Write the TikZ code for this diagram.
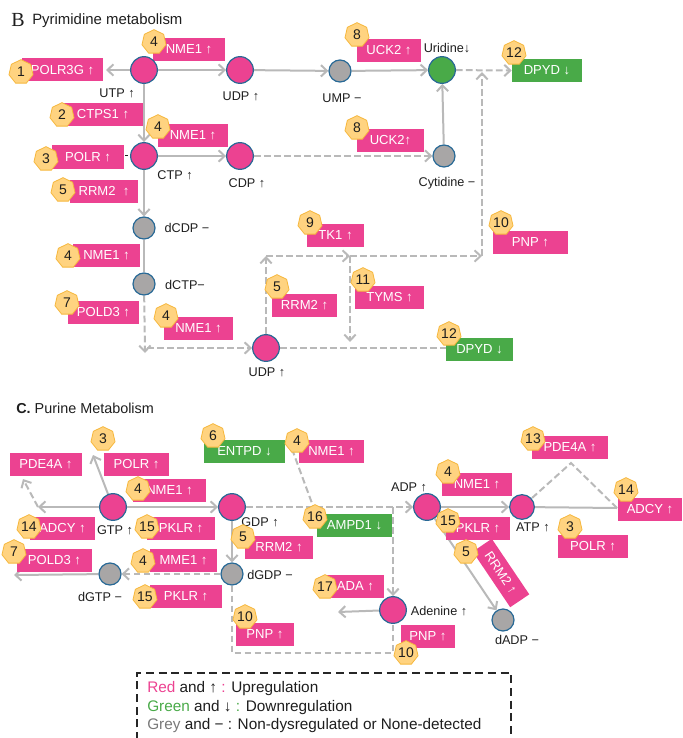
\documentclass[tikz,border=0pt]{standalone}
\usepackage{fontspec}
\setmainfont{Liberation Sans}
\newfontfamily\serifB{Liberation Serif}
\usetikzlibrary{shapes.geometric,arrows.meta,backgrounds}
\definecolor{pinkc}{RGB}{236,66,145}
\definecolor{greenc}{RGB}{73,170,72}
\definecolor{greyc}{RGB}{168,166,166}
\definecolor{bordc}{RGB}{40,105,150}
\definecolor{badgef}{RGB}{255,211,128}
\definecolor{badged}{RGB}{246,183,60}
\definecolor{linec}{RGB}{185,185,185}
\definecolor{txtc}{RGB}{30,30,30}
\definecolor{legg}{RGB}{120,120,120}
\begin{document}
\begin{tikzpicture}[x=0.75pt,y=-0.75pt,
  met/.style={circle,draw=bordc,line width=0.9pt,inner sep=0,minimum size=20pt},
  up/.style={met,fill=pinkc},
  dn/.style={met,fill=greenc},
  ns/.style={met,fill=greyc,minimum size=16.5pt},
  lbl/.style={font=\fontsize{9.5}{11}\selectfont,text=txtc,inner sep=0},
  gbox/.style={fill=pinkc,text=white,font=\fontsize{9.8}{11}\selectfont,minimum height=17.25pt,inner sep=0},
  gboxg/.style={gbox,fill=greenc},
  bw/.style={minimum width=#1*0.75pt},
  bdg/.style={regular polygon,regular polygon sides=7,fill=badgef,draw=badged,line width=0.6pt,inner sep=0,minimum size=18.5pt,font=\fontsize{10.5}{11}\selectfont,text=txtc},
  ln/.style={draw=linec,line width=1.5pt},
  ar/.style={ln,-{Straight Barb[length=4.5pt,width=8.5pt]}},
  dsh/.style={ln,dash pattern=on 5pt off 2.5pt},
  dar/.style={dsh,-{Straight Barb[length=4.5pt,width=8.5pt]}},
  ttl/.style={font=\fontsize{11.2}{13}\selectfont,text=txtc,inner sep=0,anchor=west},
  leg/.style={font=\fontsize{11.5}{13}\selectfont,text=txtc,inner sep=0,anchor=west}
]
\useasboundingbox (0,0) rectangle (682,738);

% ---------- titles ----------
\node[inner sep=0,anchor=west,text=txtc,font=\serifB\fontsize{15}{16}\selectfont] (tB) at (11,20) {B};
\node[ttl] (tBt) at (32,21) {Pyrimidine metabolism};
\node[ttl,font=\fontsize{10.8}{13}\selectfont] (tC) at (16,408) {\textbf{C.} Purine Metabolism};

% ---------- pyrimidine boxes ----------
\node[gbox,bw=81] (b1) at (62.5,70) {POLR3G ↑};
\node[gbox,bw=72] (b2) at (189,49.5) {NME1 ↑};
\node[gbox,bw=80] (b3) at (103,114.5) {CTPS1 ↑};
\node[gbox,bw=70] (b4) at (193,135.5) {NME1 ↑};
\node[gbox,bw=72] (b5) at (88,157) {POLR ↑};
\node[gbox,bw=68] (b6) at (104,191.5) {RRM2 \ ↑};
\node[gbox,bw=67] (b7) at (106.5,255.5) {NME1 ↑};
\node[gbox,bw=71] (b8) at (103.5,312.5) {POLD3 ↑};
\node[gbox,bw=69] (b9) at (198.5,328) {NME1 ↑};
\node[gbox,bw=65] (b10) at (304.5,305) {RRM2 ↑};
\node[gbox,bw=57] (b11) at (335.5,235) {TK1 ↑};
\node[gbox,bw=69] (b12) at (389.5,297.5) {TYMS ↑};
\node[gbox,bw=75] (b13) at (530.5,242.5) {PNP ↑};
\node[gboxg,bw=67] (b14) at (479.5,349.5) {DPYD ↓};
\node[gbox,bw=64] (b15) at (389,50.5) {UCK2 ↑};
\node[gbox,bw=67] (b16) at (390.5,140.5) {UCK2↑};
\node[gboxg,bw=70] (b17) at (547,70.5) {DPYD ↓};

% ---------- purine boxes ----------
\node[gbox,bw=72] (c1) at (46,464.5) {PDE4A ↑};
\node[gbox,bw=65] (c2) at (136.5,464.5) {POLR ↑};
\node[gbox,bw=73] (c3) at (169.5,490.5) {NME1 ↑};
\node[gbox,bw=65] (c4) at (62.5,528) {ADCY ↑};
\node[gbox,bw=68] (c5) at (181,528) {PKLR ↑};
\node[gbox,bw=75] (c6) at (54.5,560.5) {POLD3 ↑};
\node[gbox,bw=67] (c7) at (183.5,560.5) {MME1 ↑};
\node[gbox,bw=72] (c8) at (186,596.5) {PKLR ↑};
\node[gbox,bw=68] (c9) at (279,547.5) {RRM2 ↑};
\node[gboxg,bw=81] (c10) at (244.5,451.5) {ENTPD ↓};
\node[gbox,bw=65] (c11) at (331.5,451.5) {NME1 ↑};
\node[gboxg,bw=75] (c12) at (354.5,525) {AMPD1 ↓};
\node[gbox,bw=57] (c13) at (355.5,586.5) {ADA ↑};
\node[gbox,bw=58] (c14) at (265,634.5) {PNP ↑};
\node[gbox,bw=54] (c15) at (428,636.5) {PNP ↑};
\node[gbox,bw=70] (c16) at (477,484) {NME1 ↑};
\node[gbox,bw=64] (c17) at (478,528) {PKLR ↑};
\node[gbox,bw=76] (c18) at (570,447.5) {PDE4A ↑};
\node[gbox,bw=64] (c19) at (650,509) {ADCY ↑};
\node[gbox,bw=70] (c20) at (593,546.5) {POLR ↑};
\node[gbox,bw=67,rotate=-56] (c21) at (501,573) {RRM2 ↑};

% ---------- metabolite labels ----------
\node[lbl] (lUTP) at (117,93) {UTP ↑};
\node[lbl] (lUDP) at (241,96) {UDP ↑};
\node[lbl] (lUMP) at (342,98) {UMP −};
\node[lbl] (lURI) at (447,48) {Uridine↓};
\node[lbl] (lCYT) at (447,183) {Cytidine −};
\node[lbl] (lCTP) at (175,175) {CTP ↑};
\node[lbl] (lCDP) at (247,183) {CDP ↑};
\node[lbl] (ldCDP) at (187,228) {dCDP −};
\node[lbl] (ldCTP) at (185,285) {dCTP−};
\node[lbl] (lUDP2) at (267,372) {UDP ↑};
\node[lbl] (lGTP) at (115,530) {GTP ↑};
\node[lbl] (lGDP) at (260,522) {GDP ↑};
\node[lbl] (ldGTP) at (100,597) {dGTP −};
\node[lbl] (ldGDP) at (270,575) {dGDP −};
\node[lbl] (lADP) at (409,487) {ADP ↑};
\node[lbl] (lATP) at (533,527) {ATP ↑};
\node[lbl] (lADE) at (439,611) {Adenine ↑};
\node[lbl] (ldADP) at (517,640) {dADP −};

% ---------- metabolites ----------
\node[up] (UTP) at (144,70) {};
\node[up] (UDP) at (240,70) {};
\node[ns] (UMP) at (340,71) {};
\node[dn] (URI) at (442,70) {};
\node[up] (CTP) at (144,156) {};
\node[up] (CDP) at (240,156) {};
\node[ns] (CYT) at (444,156) {};
\node[ns] (dCDP) at (144,228) {};
\node[ns] (dCTP) at (144,284) {};
\node[up] (UDP2) at (266,348) {};
\node[up] (GTP) at (113,507) {};
\node[up] (GDP) at (232,507) {};
\node[ns] (dGDP) at (232,574) {};
\node[ns] (dGTP) at (110,574) {};
\node[up] (ADP) at (427,507) {};
\node[up,minimum size=18.5pt] (ATP) at (522,507) {};
\node[up] (ADE) at (393,610) {};
\node[ns] (dADP) at (503,620) {};

% ---------- badges ----------
\node[bdg] (k1) at (21,72) {1};
\node[bdg] (k2) at (154,42) {4};
\node[bdg] (k3) at (62,115) {2};
\node[bdg] (k4) at (158,127) {4};
\node[bdg] (k5) at (46,159) {3};
\node[bdg] (k6) at (63,190) {5};
\node[bdg] (k7) at (68,256) {4};
\node[bdg] (k8) at (67,303) {7};
\node[bdg] (k9) at (166,316) {4};
\node[bdg] (k10) at (277,287) {5};
\node[bdg] (k11) at (310,223) {9};
\node[bdg] (k12) at (363,280) {11};
\node[bdg] (k13) at (501,223) {10};
\node[bdg] (k14) at (449,334) {12};
\node[bdg] (k15) at (357,35) {8};
\node[bdg] (k16) at (357,128) {8};
\node[bdg] (k17) at (514,53) {12};
\node[bdg] (d1) at (103,439) {3};
\node[bdg] (d2) at (138,489) {4};
\node[bdg] (d3) at (29,527) {14};
\node[bdg] (d4) at (147,527) {15};
\node[bdg] (d5) at (14,552) {7};
\node[bdg] (d6) at (143,561) {4};
\node[bdg] (d7) at (145,597) {15};
\node[bdg] (d8) at (243,537) {5};
\node[bdg] (d9) at (213,436) {6};
\node[bdg] (d10) at (297,441) {4};
\node[bdg] (d11) at (315,517) {16};
\node[bdg] (d12) at (325,587) {17};
\node[bdg] (d13) at (245,617) {10};
\node[bdg] (d14) at (406,653) {10};
\node[bdg] (d15) at (448,472) {4};
\node[bdg] (d16) at (448,521) {15};
\node[bdg] (d17) at (533,439) {13};
\node[bdg] (d18) at (626,490) {14};
\node[bdg] (d19) at (570,527) {3};
\node[bdg] (d20) at (466,552) {5};

% ---------- free ends ----------
\coordinate (p0) at (106,70);
\coordinate (t1) at (125,155.5);
\coordinate (t2) at (128,155.5);
\coordinate (p1) at (145,353);
\coordinate (p2) at (147,348);
\coordinate (p3) at (266,256);
\coordinate (p4) at (350,256);
\coordinate (p5) at (482,256);
\coordinate (p6) at (350,342);
\coordinate (p7) at (482,72);
\coordinate (p8) at (446,348);
\coordinate (q1) at (38,507);
\coordinate (q2) at (93,455);
\coordinate (q3) at (23,479);
\coordinate (q4) at (14,575);
\coordinate (q5) at (393,507);
\coordinate (q6) at (292,449);
\coordinate (q7) at (313,506);
\coordinate (q8) at (232,653);
\coordinate (q9) at (393,653);
\coordinate (q10) at (338,612);
\coordinate (q11) at (617,508);
\coordinate (q12) at (571,463);

% ---------- connectors ----------
\begin{scope}[on background layer]
\draw[ar] (UTP) -- (p0);
\draw[ar] (UTP) -- (UDP);
\draw[ar] (UDP) -- (UMP);
\draw[ar] (UMP) -- (URI);
\draw[dar] (URI) -- (b17.west);
\draw[ar] (UTP) -- (CTP);
\draw[ar] (CTP) -- (CDP);
\draw[dar] (CDP) -- (CYT);
\draw[ar] (CYT) -- (URI);
\draw[ar] (CTP) -- (dCDP);
\draw[ln] (dCDP) -- (dCTP);
\draw[draw=txtc,line width=0.5pt] (t1) -- (t2);
\draw[dar] (dCTP) -- (p1);
\draw[dar] (p2) -- (UDP2);
\draw[dar] (UDP2) -- (p3);
\draw[dar] (p3) -- (p4);
\draw[dar] (p4) -- (p5);
\draw[dar] (p4) -- (p6);
\draw[dar] (p5) -- (p7);
\draw[dsh] (UDP2) -- (p8);

\draw[ar] (GTP) -- (q1);
\draw[ar] (GTP) -- (q2);
\draw[dar] (q1) -- (q3);
\draw[ar] (GTP) -- (GDP);
\draw[ar] (GDP) -- (dGDP);
\draw[dar] (dGDP) -- (dGTP);
\draw[ar] (dGTP) -- (q4);
\draw[dar] (GDP) -- (ADP);
\draw[dar] (q5) -- (ADE);
\draw[dsh] (q6) -- (q7);
\draw[dsh] (dGDP) -- (q8) -- (q9) -- (ADE);
\draw[ar] (ADE) -- (q10);
\draw[ar] (ADP) -- (ATP);
\draw[ar] (ADP) -- (dADP);
\draw[ln] (ATP) -- (q11);
\draw[dsh] (q11) -- (q12) -- (ATP);
\end{scope}

% ---------- legend ----------
\draw[black!85,line width=2pt,dash pattern=on 6pt off 3.5pt] (137,740) -- (137,673) -- (511,673) -- (511,740);
\node[leg] (g1) at (147,689) {\textcolor{pinkc}{Red} and ↑ \textcolor{pinkc}{:} Upregulation};
\node[leg] (g2) at (147,707.5) {\textcolor{greenc}{Green} and ↓ \textcolor{greenc}{:} Downregulation};
\node[leg] (g3) at (147,726) {\textcolor{legg}{Grey} and − : Non-dysregulated or None-detected};
\end{tikzpicture}
\end{document}
